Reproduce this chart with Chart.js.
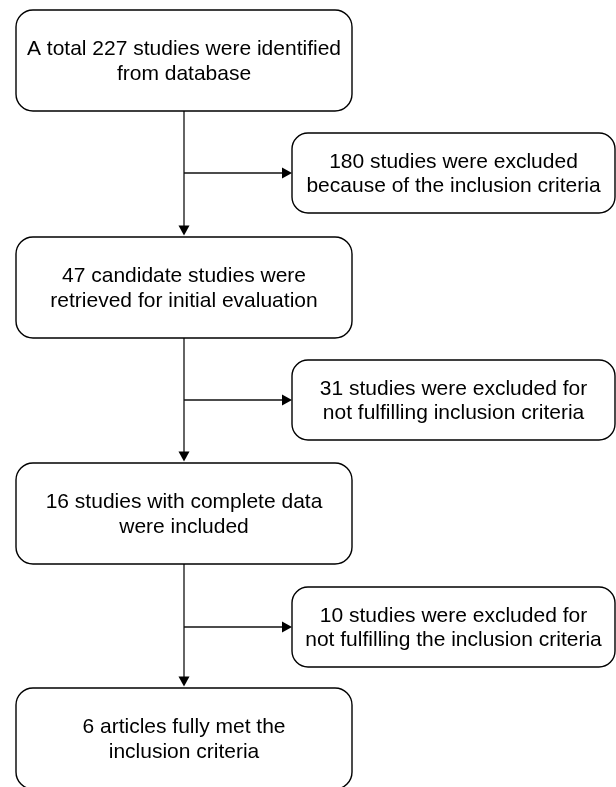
<!DOCTYPE html>
<html><head><meta charset="utf-8">
<script src="https://cdn.jsdelivr.net/npm/chart.js@4"></script>
<style>html,body{margin:0;padding:0;background:#fff;overflow:hidden}#wrap{width:616px;height:787px;position:relative}</style>
</head><body><div id="wrap"><canvas id="c"></canvas></div>
<script>
// ---- data ----
const stageCounts = [227, 47, 16, 6];
const excludedCounts = [180, 31, 10];
const stageTexts = [
  ["A total 227 studies were identified", "from database"],
  ["47 candidate studies were", "retrieved for initial evaluation"],
  ["16 studies with complete data", "were included"],
  ["6 articles fully met the", "inclusion criteria"]
];
const excludedTexts = [
  ["180 studies were excluded", "because of the inclusion criteria"],
  ["31 studies were excluded for", "not fulfilling inclusion criteria"],
  ["10 studies were excluded for", "not fulfilling the inclusion criteria"]
];

// ---- layout (in scale units) ----
const layout = {
  main: { x0: 16, x1: 352, tops: [10, 237, 463, 688], h: 101, r: 17 },
  side: { x0: 292, x1: 615, tops: [133, 360, 587], h: 80, r: 16 },
  lineGap: 24.5,
  font: '21px "Liberation Sans", Arial, sans-serif'
};

function roundRect(ctx, x0, y0, x1, y1, r) {
  ctx.beginPath();
  ctx.moveTo(x0 + r, y0);
  ctx.lineTo(x1 - r, y0);
  ctx.arcTo(x1, y0, x1, y0 + r, r);
  ctx.lineTo(x1, y1 - r);
  ctx.arcTo(x1, y1, x1 - r, y1, r);
  ctx.lineTo(x0 + r, y1);
  ctx.arcTo(x0, y1, x0, y1 - r, r);
  ctx.lineTo(x0, y0 + r);
  ctx.arcTo(x0, y0, x0 + r, y0, r);
  ctx.closePath();
}

function drawText(ctx, lines, cx, cy) {
  ctx.fillStyle = '#000';
  ctx.font = layout.font;
  ctx.textAlign = 'center';
  ctx.textBaseline = 'middle';
  const n = lines.length;
  lines.forEach((t, i) => {
    ctx.fillText(t, cx, cy + (i - (n - 1) / 2) * layout.lineGap);
  });
}

function arrowHead(ctx, x, y, dir) {
  ctx.beginPath();
  if (dir === 'down') {
    ctx.moveTo(x, y); ctx.lineTo(x - 5.5, y - 10); ctx.lineTo(x + 5.5, y - 10);
  } else {
    ctx.moveTo(x, y); ctx.lineTo(x - 10, y - 5.5); ctx.lineTo(x - 10, y + 5.5);
  }
  ctx.closePath();
  ctx.fillStyle = '#000';
  ctx.fill();
}

const flowPlugin = {
  id: 'flow',
  afterDraw(chart) {
    const ctx = chart.ctx;
    const sx = chart.scales.x, sy = chart.scales.y;
    const X = v => sx.getPixelForValue(v);
    const Y = v => sy.getPixelForValue(v);
    const m = layout.main, s = layout.side;
    const cx = (m.x0 + m.x1) / 2;
    ctx.save();
    // connectors
    ctx.strokeStyle = '#111';
    ctx.lineWidth = 1.3;
    for (let i = 0; i < excludedCounts.length; i++) {
      const yA = m.tops[i] + m.h, yB = m.tops[i + 1];
      ctx.beginPath();
      ctx.moveTo(X(cx), Y(yA));
      ctx.lineTo(X(cx), Y(yB) - 9);
      ctx.stroke();
      arrowHead(ctx, X(cx), Y(yB) - 1.5, 'down');
      const ym = s.tops[i] + s.h / 2;
      ctx.beginPath();
      ctx.moveTo(X(cx), Y(ym));
      ctx.lineTo(X(s.x0) - 9, Y(ym));
      ctx.stroke();
      arrowHead(ctx, X(s.x0), Y(ym), 'right');
    }
    // boxes
    ctx.strokeStyle = '#000';
    ctx.lineWidth = 1.4;
    stageCounts.forEach((c, i) => {
      roundRect(ctx, X(m.x0), Y(m.tops[i]), X(m.x1), Y(m.tops[i] + m.h), m.r);
      ctx.fillStyle = '#fff'; ctx.fill(); ctx.stroke();
      drawText(ctx, stageTexts[i], X(cx), Y(m.tops[i] + m.h / 2 + 1));
    });
    excludedCounts.forEach((c, i) => {
      roundRect(ctx, X(s.x0), Y(s.tops[i]), X(s.x1), Y(s.tops[i] + s.h), s.r);
      ctx.fillStyle = '#fff'; ctx.fill(); ctx.stroke();
      drawText(ctx, excludedTexts[i], X((s.x0 + s.x1) / 2), Y(s.tops[i] + s.h / 2 + 1));
    });
    ctx.restore();
  }
};

new Chart(document.getElementById('c'), {
  type: 'scatter',
  data: { datasets: [{ data: [], pointRadius: 0 }] },
  options: {
    responsive: true,
    maintainAspectRatio: false,
    animation: false,
    events: [],
    layout: { padding: 0 },
    plugins: { legend: { display: false }, tooltip: { enabled: false } },
    scales: {
      x: { type: 'linear', min: 0, max: 616, display: false },
      y: { type: 'linear', min: 0, max: 787, reverse: true, display: false }
    }
  },
  plugins: [flowPlugin]
});
</script>
</body></html>
